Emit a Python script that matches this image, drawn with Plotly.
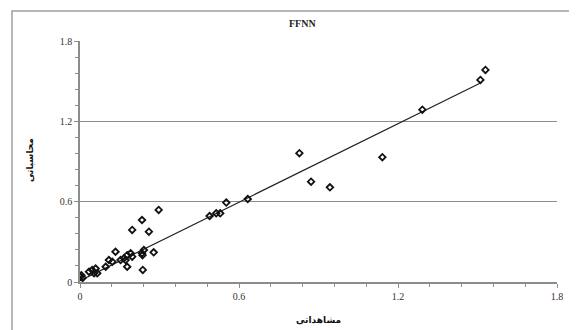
import plotly.graph_objects as go

observed = [0.0, 0.005, 0.01, 0.034, 0.046, 0.059, 0.053, 0.065, 0.097, 0.109, 0.122,
            0.134, 0.153, 0.166, 0.172, 0.178, 0.191, 0.197, 0.178, 0.197, 0.234,
            0.234, 0.241, 0.236, 0.26, 0.278, 0.237, 0.297, 0.489, 0.514, 0.529,
            0.552, 0.633, 0.828, 0.872, 0.943, 1.141, 1.292, 1.511, 1.53]
computed = [0.04, 0.05, 0.03, 0.077, 0.09, 0.10, 0.065, 0.065, 0.114, 0.164, 0.152,
            0.226, 0.164, 0.177, 0.164, 0.20, 0.214, 0.189, 0.114, 0.389, 0.463,
            0.214, 0.239, 0.20, 0.376, 0.222, 0.09, 0.538, 0.493, 0.513, 0.513,
            0.593, 0.62, 0.962, 0.749, 0.707, 0.932, 1.287, 1.509, 1.584]

# Trend line end points
trend_x = [0.0, 1.515]
trend_y = [0.01, 1.49]

x_ticks = [0, 0.6, 1.2, 1.8]
y_ticks = [0, 0.6, 1.2, 1.8]
minor_ticks = [0.12 * i for i in range(16)]

title_text = "FFNN"
x_title = "مشاهداتی"
y_title = "محاسباتی"

fig = go.Figure()
fig.add_trace(go.Scatter(x=trend_x, y=trend_y, mode="lines",
                         line=dict(color="#222222", width=1.2), hoverinfo="skip"))
fig.add_trace(go.Scatter(x=observed, y=computed, mode="markers",
                         marker=dict(symbol="diamond-open", size=5, color="#111111",
                                     line=dict(width=1.8, color="#111111"))))

tickfont = dict(family="Liberation Serif, Times New Roman, serif", size=10, color="#333333")

PW, PH = 477, 241  # plot area size in px

fig.update_layout(
    width=569, height=322,
    margin=dict(l=72, r=20, t=33, b=48, autoexpand=False),
    paper_bgcolor="white", plot_bgcolor="white",
    showlegend=False,
    xaxis=dict(range=[0, 1.8], tickmode="array", tickvals=x_ticks,
               ticktext=["0", "0.6", "1.2", "1.8"], showgrid=False, zeroline=False,
               showline=True, linecolor="#8c8c8c", linewidth=1.5,
               ticks="outside", ticklen=4, tickcolor="#8c8c8c", tickwidth=1,
               tickfont=tickfont, automargin=False,
               minor=dict(tickmode="array", tickvals=minor_ticks, ticks="outside",
                          ticklen=3, tickcolor="#8c8c8c", showgrid=False)),
    yaxis=dict(range=[0, 1.8], tickmode="array", tickvals=y_ticks,
               ticktext=["0", "0.6", "1.2", "1.8"], showgrid=True, gridcolor="#8c8c8c",
               gridwidth=1.2, zeroline=False,
               showline=True, linecolor="#8c8c8c", linewidth=1.5,
               ticks="outside", ticklen=4, tickcolor="#8c8c8c", tickwidth=1,
               tickfont=tickfont, automargin=False,
               minor=dict(tickmode="array", tickvals=minor_ticks, ticks="outside",
                          ticklen=3, tickcolor="#8c8c8c", showgrid=False)),
)

# outer chart border (left and top visible in reference)
fig.add_shape(type="rect", xref="paper", yref="paper",
              x0=-68 / PW, x1=1.2, y0=-0.3, y1=1 + 30 / PH,
              line=dict(color="#a0a0a0", width=1.5), layer="below")

fig.add_annotation(text="<b>" + title_text + "</b>", xref="paper", yref="paper",
                   x=222 / PW, y=259 / PH, showarrow=False,
                   xanchor="center", yanchor="middle",
                   font=dict(family="Liberation Serif, Times New Roman, serif", size=10, color="#222222"))
fig.add_annotation(text="<b>" + x_title + "</b>", xref="paper", yref="paper",
                   x=238 / PW, y=-38 / PH, showarrow=False,
                   xanchor="center", yanchor="middle",
                   font=dict(family="DejaVu Sans, sans-serif", size=9, color="#111111"))
fig.add_annotation(text="<b>" + y_title + "</b>", xref="paper", yref="paper",
                   x=-50 / PW, y=122 / PH, showarrow=False, textangle=-90,
                   xanchor="center", yanchor="middle",
                   font=dict(family="DejaVu Sans, sans-serif", size=9, color="#111111"))

fig.write_html("out.html")
